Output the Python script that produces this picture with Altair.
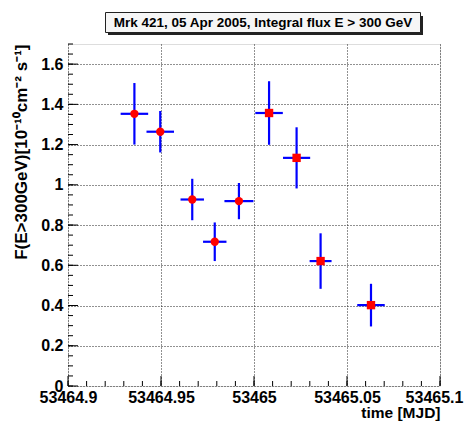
import altair as alt
import pandas as pd

# ---- data ----
times = [53464.9357, 53464.9496, 53464.9668, 53464.9789, 53464.9919,
         53465.0081, 53465.0229, 53465.0358, 53465.0629]
time_err = [0.0074, 0.0074, 0.0063, 0.0063, 0.0078, 0.0074, 0.0073, 0.0059, 0.0074]
flux = [1.353, 1.264, 0.927, 0.717, 0.919, 1.357, 1.134, 0.621, 0.402]
flux_err = [0.153, 0.103, 0.103, 0.096, 0.090, 0.158, 0.152, 0.138, 0.106]
marker = ["circle"] * 5 + ["square"] * 4

y_major = [0, 0.2, 0.4, 0.6, 0.8, 1.0, 1.2, 1.4, 1.6]
y_minor = [round(0.05 * i, 2) for i in range(35)]
x_major = [53464.9, 53464.95, 53465.0, 53465.05, 53465.1]
x_minor = [round(53464.9 + 0.01 * i, 2) for i in range(21)]

title_text = "Mrk 421, 05 Apr 2005, Integral flux E > 300 GeV"
x_title = "time [MJD]"
y_title = "F(E>300GeV)[10\u207b\u00b9\u2070cm\u207b\u00b2 s\u207b\u00b9]"

df = pd.DataFrame({
    "t": times, "f": flux,
    "tlo": [a - b for a, b in zip(times, time_err)],
    "thi": [a + b for a, b in zip(times, time_err)],
    "flo": [a - b for a, b in zip(flux, flux_err)],
    "fhi": [a + b for a, b in zip(flux, flux_err)],
    "m": marker,
})

W, H = 372, 342
FONT = "Liberation Sans"

xscale = alt.Scale(domain=[53464.9, 53465.1], nice=False, zero=False)
yscale = alt.Scale(domain=[0, 1.7], nice=False, zero=True)

common = dict(grid=True, gridColor="#222222", gridDash=[1, 2], gridWidth=1, gridOpacity=1,
              ticks=False, domain=False,
              labelFlush=False, labelOverlap=False, labelBound=False,
              labelFont=FONT, labelFontSize=16, labelFontWeight="bold", labelColor="black",
              titleFont=FONT, titleFontWeight="bold", titleColor="black", titleAnchor="end")

xaxis = alt.Axis(values=x_major, format=".2~f", labelPadding=3,
                 labelOffset={"condition": {"test": "datum.value > 53465.09", "value": -6}, "value": 0},
                 title=x_title, titleFontSize=15.5, titlePadding=0, **common)
yaxis = alt.Axis(values=y_major, format="~g", labelPadding=5,
                 title=y_title, titleFontSize=17, titlePadding=10, **common)

base = alt.Chart(df)

vbar = base.mark_rule(color="#0000ff", strokeWidth=2.2).encode(
    x=alt.X("t:Q", scale=xscale, axis=xaxis),
    y=alt.Y("flo:Q", scale=yscale, axis=yaxis),
    y2="fhi:Q",
)
hbar = base.mark_rule(color="#0000ff", strokeWidth=2.2).encode(
    x=alt.X("tlo:Q", scale=xscale), x2="thi:Q", y=alt.Y("f:Q", scale=yscale))
pts = base.mark_point(filled=True, opacity=1, color="#ff0000", size=70).encode(
    x=alt.X("t:Q", scale=xscale), y=alt.Y("f:Q", scale=yscale),
    shape=alt.Shape("m:N", scale=alt.Scale(domain=["circle", "square"], range=["circle", "square"]),
                    legend=None),
)

ymaj = alt.Chart(pd.DataFrame({"flo": y_major})).mark_rule(color="black", strokeWidth=1).encode(
    y=alt.Y("flo:Q", scale=yscale), x=alt.value(0), x2=alt.value(10))
ymin = alt.Chart(pd.DataFrame({"flo": y_minor})).mark_rule(color="black", strokeWidth=1).encode(
    y=alt.Y("flo:Q", scale=yscale), x=alt.value(0), x2=alt.value(5))
xmaj = alt.Chart(pd.DataFrame({"t": x_major})).mark_rule(color="black", strokeWidth=1).encode(
    x=alt.X("t:Q", scale=xscale), y=alt.value(H), y2=alt.value(H - 10))
xmin = alt.Chart(pd.DataFrame({"t": x_minor})).mark_rule(color="black", strokeWidth=1).encode(
    x=alt.X("t:Q", scale=xscale), y=alt.value(H), y2=alt.value(H - 5))

one = pd.DataFrame({"k": [0]})
shadow = alt.Chart(one).mark_rect(color="#222222").encode(
    x=alt.value(40), x2=alt.value(355), y=alt.value(-28), y2=alt.value(-9))
box = alt.Chart(one).mark_rect(fill="#f6f6f6", stroke="#222222", strokeWidth=1).encode(
    x=alt.value(37.5), x2=alt.value(352.5), y=alt.value(-31.5), y2=alt.value(-11.5))
ttl = alt.Chart(one).mark_text(font=FONT, fontSize=13.5, fontWeight="bold", color="black",
                               align="center", baseline="middle").encode(
    x=alt.value(195), y=alt.value(-21.5), text=alt.value(title_text))

chart = alt.layer(vbar, hbar, pts, ymaj, ymin, xmaj, xmin, shadow, box, ttl).properties(
    width=W, height=H,
    autosize=alt.AutoSizeParams(type="none"),
    padding={"left": 60, "top": 36, "right": 25, "bottom": 37},
).configure_view(stroke="black", strokeWidth=2).configure(background="white")

chart.save("out.html", embed_options={"renderer": "svg", "actions": False})
